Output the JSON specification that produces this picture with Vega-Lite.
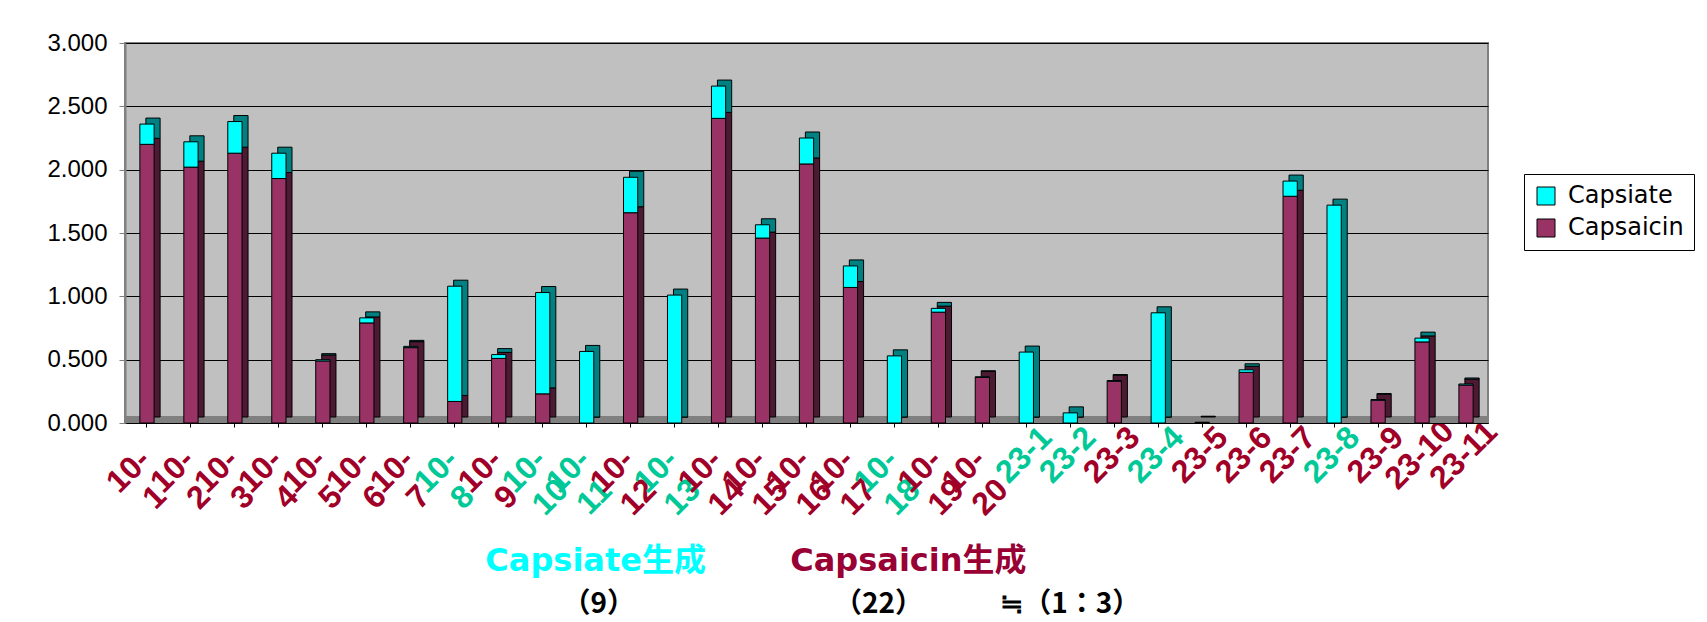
{
  "$schema": "https://vega.github.io/schema/vega-lite/v6.json",
  "width": 1363,
  "height": 380,
  "autosize": {"type": "none"},
  "padding": {"left": 125, "top": 43, "right": 219, "bottom": 199},
  "background": "white",
  "config": {
    "view": {"fill": "#c0c0c0", "stroke": "#808080", "strokeWidth": 2},
    "legend": {"symbolStrokeColor": "black", "symbolStrokeWidth": 1},
    "axisX": {
      "title": null, "labelAngle": -45, "labelAlign": "center", "labelBaseline": "top",
      "labelFont": "Liberation Sans", "labelFontSize": 32, "labelFontWeight": "bold",
      "labelLineHeight": 37, "labelOverlap": false, "labelBound": false,
      "labelOffset": {"condition": {"test": "indexof(datum.value, '10-') == 0", "value": -29}, "value": -13},
      "labelPadding": {"condition": {"test": "indexof(datum.value, '10-') == 0", "value": 33}, "value": 17},
      "labelColor": {"condition": {"test": "indexof(['10-8','10-10','10-11','10-13','10-18','23-1','23-2','23-4','23-8'], datum.value) >= 0", "value": "#00c896"}, "value": "#a00028"},
      "domainColor": "black", "tickColor": "black", "tickSize": 4
    },
    "axisY": {
      "title": null,
      "labelFont": "Liberation Sans", "labelFontSize": 24, "labelColor": "black",
      "labelPadding": 12, "tickSize": 6, "tickColor": "#808080",
      "domainColor": "#808080", "domainWidth": 2,
      "grid": true, "gridColor": "black", "gridWidth": 1.2
    }
  },
  "data": {
    "values": [
      {"s": "10-1", "series": "Capsaicin", "v": 2.20}, {"s": "10-1", "series": "Capsiate", "v": 0.16},
      {"s": "10-2", "series": "Capsaicin", "v": 2.02}, {"s": "10-2", "series": "Capsiate", "v": 0.20},
      {"s": "10-3", "series": "Capsaicin", "v": 2.13}, {"s": "10-3", "series": "Capsiate", "v": 0.25},
      {"s": "10-4", "series": "Capsaicin", "v": 1.93}, {"s": "10-4", "series": "Capsiate", "v": 0.20},
      {"s": "10-5", "series": "Capsaicin", "v": 0.49}, {"s": "10-5", "series": "Capsiate", "v": 0.01},
      {"s": "10-6", "series": "Capsaicin", "v": 0.79}, {"s": "10-6", "series": "Capsiate", "v": 0.04},
      {"s": "10-7", "series": "Capsaicin", "v": 0.595}, {"s": "10-7", "series": "Capsiate", "v": 0.01},
      {"s": "10-8", "series": "Capsaicin", "v": 0.17}, {"s": "10-8", "series": "Capsiate", "v": 0.91},
      {"s": "10-9", "series": "Capsaicin", "v": 0.51}, {"s": "10-9", "series": "Capsiate", "v": 0.03},
      {"s": "10-10", "series": "Capsaicin", "v": 0.23}, {"s": "10-10", "series": "Capsiate", "v": 0.80},
      {"s": "10-11", "series": "Capsaicin", "v": 0}, {"s": "10-11", "series": "Capsiate", "v": 0.565},
      {"s": "10-12", "series": "Capsaicin", "v": 1.66}, {"s": "10-12", "series": "Capsiate", "v": 0.28},
      {"s": "10-13", "series": "Capsaicin", "v": 0}, {"s": "10-13", "series": "Capsiate", "v": 1.01},
      {"s": "10-14", "series": "Capsaicin", "v": 2.405}, {"s": "10-14", "series": "Capsiate", "v": 0.255},
      {"s": "10-15", "series": "Capsaicin", "v": 1.46}, {"s": "10-15", "series": "Capsiate", "v": 0.105},
      {"s": "10-16", "series": "Capsaicin", "v": 2.045}, {"s": "10-16", "series": "Capsiate", "v": 0.205},
      {"s": "10-17", "series": "Capsaicin", "v": 1.07}, {"s": "10-17", "series": "Capsiate", "v": 0.17},
      {"s": "10-18", "series": "Capsaicin", "v": 0}, {"s": "10-18", "series": "Capsiate", "v": 0.53},
      {"s": "10-19", "series": "Capsaicin", "v": 0.875}, {"s": "10-19", "series": "Capsiate", "v": 0.03},
      {"s": "10-20", "series": "Capsaicin", "v": 0.36}, {"s": "10-20", "series": "Capsiate", "v": 0.005},
      {"s": "23-1", "series": "Capsaicin", "v": 0}, {"s": "23-1", "series": "Capsiate", "v": 0.56},
      {"s": "23-2", "series": "Capsaicin", "v": 0}, {"s": "23-2", "series": "Capsiate", "v": 0.08},
      {"s": "23-3", "series": "Capsaicin", "v": 0.33}, {"s": "23-3", "series": "Capsiate", "v": 0.005},
      {"s": "23-4", "series": "Capsaicin", "v": 0}, {"s": "23-4", "series": "Capsiate", "v": 0.87},
      {"s": "23-5", "series": "Capsaicin", "v": 0.004}, {"s": "23-5", "series": "Capsiate", "v": 0.002},
      {"s": "23-6", "series": "Capsaicin", "v": 0.40}, {"s": "23-6", "series": "Capsiate", "v": 0.02},
      {"s": "23-7", "series": "Capsaicin", "v": 1.79}, {"s": "23-7", "series": "Capsiate", "v": 0.12},
      {"s": "23-8", "series": "Capsaicin", "v": 0}, {"s": "23-8", "series": "Capsiate", "v": 1.72},
      {"s": "23-9", "series": "Capsaicin", "v": 0.18}, {"s": "23-9", "series": "Capsiate", "v": 0.005},
      {"s": "23-10", "series": "Capsaicin", "v": 0.64}, {"s": "23-10", "series": "Capsiate", "v": 0.03},
      {"s": "23-11", "series": "Capsaicin", "v": 0.30}, {"s": "23-11", "series": "Capsiate", "v": 0.008}
    ]
  },
  "layer": [
    {
      "data": {"values": [{}]},
      "mark": {"type": "rect", "color": "#808080"},
      "encoding": {
        "y": {"datum": 0, "type": "quantitative", "scale": {"domain": [0, 3]}, "title": null},
        "y2": {"datum": 0.055}
      }
    },
    {
      "mark": {"type": "bar", "width": {"band": 0.36}, "xOffset": 6, "yOffset": -6, "stroke": "black", "strokeWidth": 1},
      "encoding": {
        "x": {"field": "s", "type": "nominal", "sort": null, "title": null},
        "y": {"field": "v", "type": "quantitative", "stack": "zero", "scale": {"domain": [0, 3]}, "title": null},
        "detail": {"field": "series"},
        "order": {"field": "series", "sort": "ascending"},
        "color": {"condition": {"test": "datum.series === 'Capsiate'", "value": "#008080"}, "value": "#4d1a33"}
      }
    },
    {
      "mark": {"type": "bar", "width": {"band": 0.36}, "stroke": "black", "strokeWidth": 1},
      "encoding": {
        "x": {
          "field": "s", "type": "nominal", "sort": null, "title": null,
          "axis": {"labelExpr": "indexof(datum.value, '10-') == 0 ? ['10-', substring(datum.value, 3)] : datum.value"}
        },
        "y": {
          "field": "v", "type": "quantitative", "stack": "zero", "scale": {"domain": [0, 3]}, "title": null,
          "axis": {"values": [0, 0.5, 1, 1.5, 2, 2.5, 3], "format": ".3f"}
        },
        "order": {"field": "series", "sort": "ascending"},
        "color": {
          "field": "series", "type": "nominal",
          "scale": {"domain": ["Capsiate", "Capsaicin"], "range": ["#00ffff", "#993366"]},
          "legend": {
            "title": null, "orient": "none", "legendX": 1399, "legendY": 131,
            "strokeColor": "black", "fillColor": "white", "padding": 10,
            "symbolType": "square", "symbolSize": 324, "labelFont": "DejaVu Sans",
            "labelFontSize": 24, "labelColor": "black", "rowPadding": 8, "labelOffset": 10
          }
        }
      }
    },
    {
      "data": {"values": [{}]},
      "mark": {"type": "text", "text": "Capsiate生成", "font": "DejaVu Sans, Noto Sans CJK JP", "fontSize": 32, "fontWeight": "bold", "color": "#00ffff", "baseline": "middle", "dx": 9},
      "encoding": {
        "x": {"datum": "10-11", "type": "nominal", "title": null},
        "y": {"datum": -1.09, "type": "quantitative", "scale": {"domain": [0, 3]}, "title": null}
      }
    },
    {
      "data": {"values": [{}]},
      "mark": {"type": "text", "text": "Capsaicin生成", "font": "DejaVu Sans, Noto Sans CJK JP", "fontSize": 32, "fontWeight": "bold", "color": "#990033", "baseline": "middle", "dx": 14},
      "encoding": {
        "x": {"datum": "10-18", "type": "nominal", "title": null},
        "y": {"datum": -1.09, "type": "quantitative", "scale": {"domain": [0, 3]}, "title": null}
      }
    },
    {
      "data": {"values": [{}]},
      "mark": {"type": "text", "text": "（9）", "font": "Noto Sans CJK JP", "fontSize": 28, "fontWeight": "bold", "color": "black", "baseline": "middle", "dx": 12},
      "encoding": {
        "x": {"datum": "10-11", "type": "nominal", "title": null},
        "y": {"datum": -1.44, "type": "quantitative", "scale": {"domain": [0, 3]}, "title": null}
      }
    },
    {
      "data": {"values": [{}]},
      "mark": {"type": "text", "text": "（22）", "font": "Noto Sans CJK JP", "fontSize": 28, "fontWeight": "bold", "color": "black", "baseline": "middle", "dx": -16},
      "encoding": {
        "x": {"datum": "10-18", "type": "nominal", "title": null},
        "y": {"datum": -1.44, "type": "quantitative", "scale": {"domain": [0, 3]}, "title": null}
      }
    },
    {
      "data": {"values": [{}]},
      "mark": {"type": "text", "text": "≒（1：3）", "font": "Noto Sans CJK JP", "fontSize": 28, "fontWeight": "bold", "color": "black", "baseline": "middle", "dx": 0},
      "encoding": {
        "x": {"datum": "23-2", "type": "nominal", "title": null},
        "y": {"datum": -1.44, "type": "quantitative", "scale": {"domain": [0, 3]}, "title": null}
      }
    }
  ]
}
